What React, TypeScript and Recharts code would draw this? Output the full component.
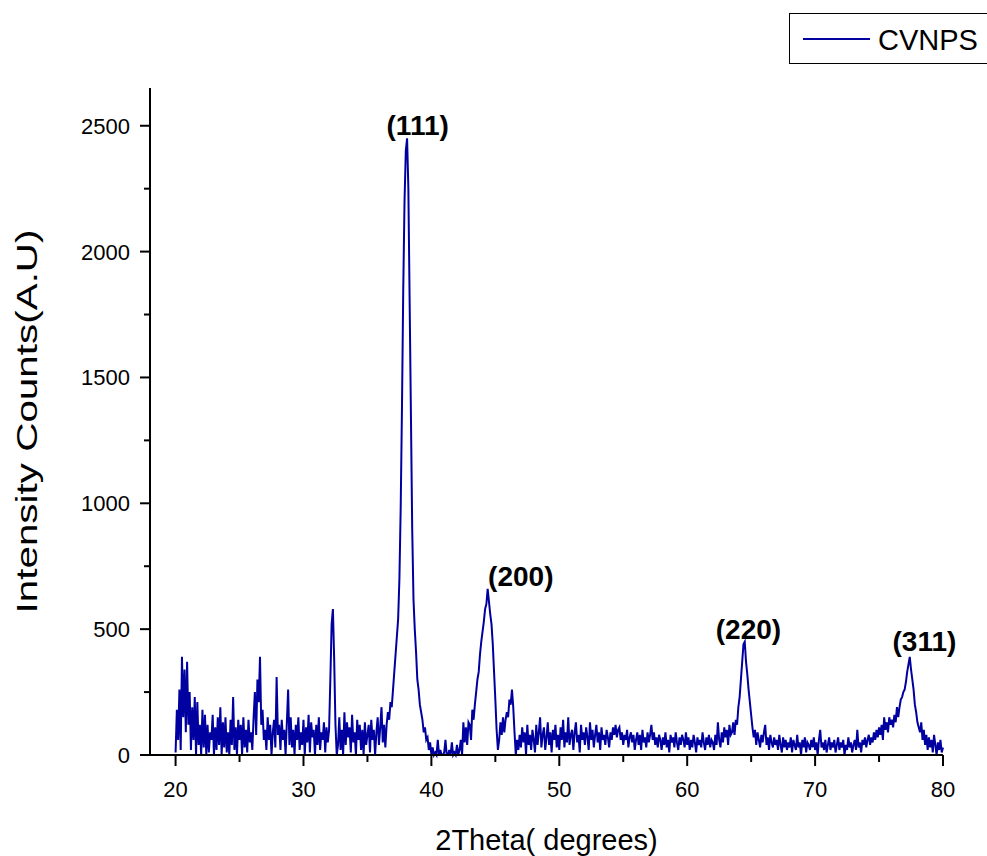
import React from 'react';
import { LineChart, Line, XAxis, YAxis, ReferenceDot, Legend } from 'recharts';

// XRD scan, sampled every 0.1 degree from 20.0 to 80.0
const START_ANGLE = 20;
const STEP = 0.1;

const counts20s = [
  10, 180, 60, 260, 20, 390, 150, 340, 90, 370,
  120, 250, 20, 190, 60, 230, 0, 210, 40, 120,
  0, 180, 30, 160, 0, 120, 10, 90, 60, 160,
  0, 110, 20, 150, 40, 190, 0, 130, 30, 150,
  10, 90, 0, 140, 40, 230, 20, 110, 0, 140,
  60, 120, 0, 150, 30, 100, 10, 140, 50, 90,
  20, 150, 250, 80, 300, 210, 390, 120, 180, 60,
  100, 20, 150, 60, 120, 0, 90, 140, 30, 310,
  80, 120, 20, 140, 60, 100, 0, 130, 260, 40,
  150, 30, 100, 0, 120, 60, 150, 20, 90, 40,
];

const counts30s = [
  140, 0, 110, 50, 160, 10, 130, 70, 100, 0,
  120, 40, 150, 20, 90, 60, 130, 10, 110, 50,
  100, 300, 520, 580, 380, 120, 0, 40, 150, 20,
  100, 0, 170, 40, 130, 70, 110, 10, 160, 50,
  90, 0, 140, 60, 120, 20, 100, 0, 130, 40,
  80, 120, 10, 140, 60, 100, 0, 90, 150, 40,
  110, 190, 50, 120, 30, 120, 170, 140, 210, 190,
  260, 330, 400, 470, 540, 700, 980, 1380, 1850, 2200,
  2400, 2450, 2250, 1800, 1350, 900, 620, 500, 410, 300,
  260, 200, 170, 140, 90, 110, 60, 70, 20, 50,
];

const counts40s = [
  0, 30, 0, 10, 0, 60, 0, 20, 0, 0,
  10, 60, 0, 0, 20, 0, 50, 0, 10, 0,
  40, 0, 20, 60, 0, 130, 50, 110, 40, 130,
  120, 60, 180, 140, 200, 250, 300, 330, 400, 450,
  490, 530, 580, 600, 660, 610, 560, 520, 440, 330,
  220, 100, 20, 60, 130, 80, 150, 90, 140, 170,
  150, 220, 200, 260, 190, 90, 0, 60, 20, 80,
  30, 110, 50, 90, 0, 120, 40, 80, 20, 100,
  60, 10, 120, 40, 90, 150, 30, 80, 110, 20,
  70, 130, 40, 90, 10, 100, 60, 120, 30, 80,
];

const counts50s = [
  20, 110, 60, 140, 30, 90, 50, 150, 40, 80,
  100, 20, 90, 130, 50, 80, 10, 120, 60, 90,
  40, 110, 70, 20, 130, 60, 100, 30, 80, 120,
  50, 90, 20, 110, 60, 80, 40, 100, 70, 30,
  90, 60, 110, 80, 120, 70, 100, 110, 60, 90,
  40, 80, 60, 100, 30, 70, 90, 50, 80, 20,
  60, 90, 40, 80, 20, 100, 50, 70, 30, 90,
  50, 80, 120, 60, 90, 40, 70, 30, 80, 60,
  20, 70, 40, 90, 30, 60, 10, 80, 50, 70,
  30, 90, 50, 20, 70, 40, 80, 60, 30, 90,
];

const counts60s = [
  40, 70, 20, 60, 30, 80, 50, 10, 70, 40,
  60, 30, 90, 50, 20, 70, 40, 80, 30, 60,
  50, 20, 80, 40, 130, 60, 30, 90, 50, 110,
  70, 100, 40, 120, 80, 90, 130, 80, 140, 120,
  190, 230, 300, 370, 440, 450, 370, 320, 260, 210,
  160, 110, 70, 100, 40, 90, 60, 30, 80, 50,
  90, 120, 40, 70, 20, 80, 50, 30, 70, 40,
  60, 20, 80, 40, 10, 70, 30, 60, 20, 50,
  30, 70, 10, 60, 40, 20, 80, 30, 50, 0,
  60, 30, 70, 10, 50, 40, 20, 60, 30, 70,
];

const counts70s = [
  20, 50, 0, 60, 100, 30, 50, 20, 60, 10,
  40, 70, 20, 50, 30, 60, 10, 40, 70, 20,
  50, 30, 60, 0, 40, 20, 70, 30, 50, 10,
  40, 60, 20, 100, 30, 50, 10, 60, 40, 70,
  30, 60, 80, 40, 70, 50, 90, 60, 100, 70,
  110, 80, 120, 60, 150, 100, 130, 90, 150, 120,
  140, 110, 160, 130, 190, 150, 190, 220, 230, 250,
  260, 290, 330, 360, 390, 340, 300, 260, 200, 170,
  130, 110, 90, 130, 60, 100, 40, 80, 20, 70,
  30, 60, 10, 80, 40, 0, 50, 20, 60, 10,
  30,
];

const xTicks = [20, 25, 30, 35, 40, 45, 50, 55, 60, 65, 70, 75, 80];
const yTicks = [0, 250, 500, 750, 1000, 1250, 1500, 1750, 2000, 2250, 2500];

// Miller indices written above the peaks
const peakLabels = [
  { theta: 38.93, counts: 2503, text: '(111)' },
  { theta: 46.99, counts: 711, text: '(200)' },
  { theta: 64.79, counts: 501, text: '(220)' },
  { theta: 78.55, counts: 453, text: '(311)' },
];

const data = [...counts20s, ...counts30s, ...counts40s, ...counts50s, ...counts60s, ...counts70s].map(
  (c, i) => ({ theta: +(START_ANGLE + i * STEP).toFixed(1), counts: c }),
);

const FONT = '"Liberation Sans", Arial, Helvetica, sans-serif';
const LINE_COLOR = '#0000A0';

function XTick(props: any) {
  const { x, y, payload } = props;
  const major = payload.value % 10 === 0;
  return (
    <g>
      <line x1={x} x2={x} y1={y} y2={y + (major ? 11 : 7)} stroke="#000" strokeWidth={2} />
      {major && (
        <text x={x} y={y + 42} textAnchor="middle" fontSize={22} fill="#000">
          {payload.value}
        </text>
      )}
    </g>
  );
}

function YTick(props: any) {
  const { x, y, payload } = props;
  const major = payload.value % 500 === 0;
  return (
    <g>
      <line x1={x - (major ? 10 : 6)} x2={x} y1={y} y2={y} stroke="#000" strokeWidth={2} />
      {major && (
        <text x={x - 20} y={y + 8} textAnchor="end" fontSize={22} fill="#000">
          {payload.value}
        </text>
      )}
    </g>
  );
}

// the y title in the source is stretched along the axis
function YTitle(props: any) {
  const { viewBox } = props;
  const x = viewBox.x - 53;
  const y = viewBox.y + viewBox.height / 2;
  return (
    <text
      x={x} y={y} transform={`rotate(-90, ${x}, ${y})`} textAnchor="middle"
      fontSize={29} fill="#000" textLength={384} lengthAdjust="spacingAndGlyphs"
    >
      Intensity Counts(A.U)
    </text>
  );
}

function LegendBox() {
  return (
    <div style={{
      width: 210, height: 51, border: '1.5px solid #000', boxSizing: 'border-box',
      position: 'relative', background: '#fff', fontFamily: FONT,
    }}>
      <svg width={90} height={48} style={{ position: 'absolute', left: 0, top: 0 }}>
        <line x1={13} x2={80} y1={25} y2={25} stroke={LINE_COLOR} strokeWidth={2} />
      </svg>
      <span style={{ position: 'absolute', left: 88, top: 2, fontSize: 29, lineHeight: '48px', color: '#000' }}>
        CVNPS
      </span>
    </div>
  );
}

export default function App() {
  return (
    <div style={{
      position: 'absolute', left: 0, top: 0, width: 987, height: 856,
      overflow: 'hidden', background: '#fff', fontFamily: FONT,
    }}>
      <LineChart width={987} height={856} data={data} margin={{ top: 88, right: 44, bottom: 61, left: 90 }}>
        <XAxis
          type="number" dataKey="theta" domain={[18, 80]} ticks={xTicks} interval={0}
          tick={<XTick />} tickLine={false} tickSize={0} tickMargin={0} height={40}
          axisLine={{ stroke: '#000', strokeWidth: 2 }}
          label={{ value: '2Theta( degrees)', position: 'bottom', offset: 34, fontSize: 29, fill: '#000' }}
        />
        <YAxis
          type="number" domain={[0, 2650]} ticks={yTicks} interval={0}
          tick={<YTick />} tickLine={false} tickSize={0} tickMargin={0} width={60}
          axisLine={{ stroke: '#000', strokeWidth: 2 }}
          label={{ content: <YTitle /> }}
        />
        <Legend
          layout="vertical" verticalAlign="middle" align="center"
          content={<LegendBox />}
          wrapperStyle={{ left: 789, top: 13, width: 210, height: 51 }}
        />
        <Line
          type="linear" dataKey="counts" name="CVNPS" stroke={LINE_COLOR} strokeWidth={2}
          dot={false} activeDot={false} isAnimationActive={false}
        />
        {peakLabels.map((p) => (
          <ReferenceDot
            key={p.text} x={p.theta} y={p.counts} r={0} fill="none" stroke="none"
            label={{ value: p.text, position: 'center', fontSize: 28, fontWeight: 'bold', fill: '#000' }}
          />
        ))}
      </LineChart>
    </div>
  );
}
